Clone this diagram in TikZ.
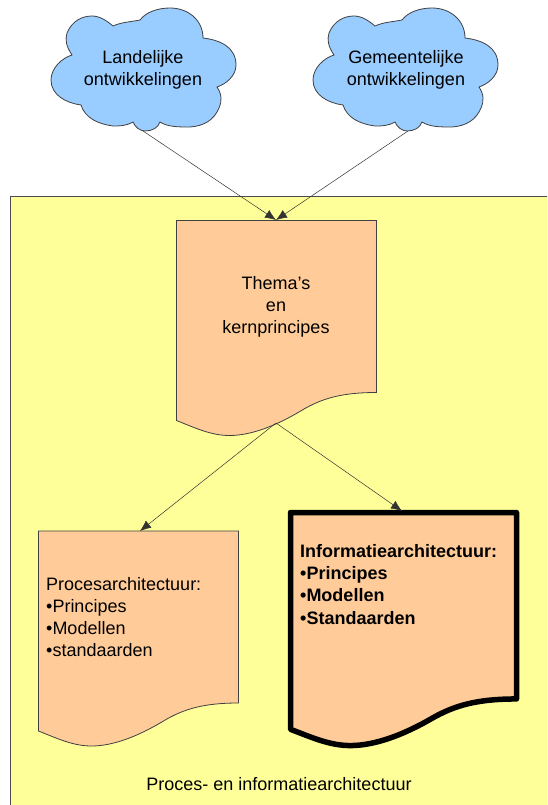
\documentclass[tikz,border=0pt]{standalone}
\usepackage{fontspec}
\setmainfont{Liberation Sans}[Ligatures=ResetAll]
\usetikzlibrary{arrows.meta}
\definecolor{cloudblue}{HTML}{99CCFF}
\definecolor{docorange}{HTML}{FFCC99}
\definecolor{areayellow}{HTML}{FFFF99}
\newcommand{\docpath}{(0,0) -- (200,0) -- (200,172) .. controls (165,172) and (145,178) .. (125,190) .. controls (100,205) and (75,215) .. (53,215) .. controls (35,215) and (20,208) .. (0,200) -- cycle}
\newcommand{\cloudpath}{(72,55) .. controls (66,46) and (65,40) .. (67,33) .. controls (72,21) and (82,16) .. (92,16) .. controls (100,16) and (107,21) .. (113,26) .. controls (122,22) and (130,22) .. (140,20) .. controls (146,12) and (158,8) .. (170,8) .. controls (188,8) and (203,20) .. (203,38) .. controls (220,40) and (236,47) .. (236,65) .. controls (236,76) and (226,84) .. (217,87) .. controls (222,94) and (222,102) .. (219,108) .. controls (214,120) and (204,126) .. (190,127) .. controls (178,127) and (168,127) .. (160,122) .. controls (158,128) and (152,131) .. (145,131) .. controls (140,131) and (135,127) .. (133,122) .. controls (126,126) and (120,126) .. (113,126) .. controls (98,124) and (85,118) .. (81,105) .. controls (66,103) and (51,95) .. (51,80) .. controls (51,68) and (62,58) .. (72,55) -- cycle}
\begin{document}
\begin{tikzpicture}[x=1pt, y=-1pt, every node/.style={font=\fontsize{18}{22}\selectfont, align=center, inner sep=0pt}]
  % Styles
  \tikzset{
    area/.style = {draw=black!70, fill=areayellow, line width=0.8pt},
    cloudshape/.style = {draw=black!75, fill=cloudblue, line width=0.8pt},
    docshape/.style = {draw=black!75, fill=docorange, line width=0.8pt},
    docheavy/.style = {draw=black, fill=docorange, line width=5.5pt, line join=round},
    link/.style = {-{Latex[length=11pt,width=9pt]}, draw=black!80, line width=0.5pt}
  }
  \useasboundingbox (0,0) rectangle (547,805);
  \clip (0,0) rectangle (547,805);

  % Background
  \path[area] (10.5,196) rectangle (560,820);

  % Clouds
  \path[cloudshape] \cloudpath;
  \path[cloudshape, shift={(262,0)}] \cloudpath;
  \node (Landelijk) at (143,70) {Landelijke\\ontwikkelingen};
  \node (Gemeente) at (406,70) {Gemeentelijke\\ontwikkelingen};

  % Documents
  \path[docshape, shift={(176.5,220.5)}] \docpath;
  \path[docshape, shift={(38.5,531)}] \docpath;
  \path[docheavy, shift={(290.5,512.5)}, xscale=1.13, yscale=1.084] \docpath;

  % Anchors
  \coordinate (CloudL) at (143,131);
  \coordinate (CloudR) at (408,131);
  \coordinate (ThemaTop) at (276,220);
  \coordinate (ThemaBot) at (276,423);
  \coordinate (ProcesTop) at (140,531);
  \coordinate (InfoTop) at (402,511);

  % Texts
  \node (Thema) at (276,307) {Thema's\\en\hspace{6pt}\\kernprincipes};
  \node[anchor=north west, align=left] (Proces) at (46,577) {Procesarchitectuur:\\•Principes\\•Modellen\\•standaarden};
  \node[anchor=north west, align=left, font=\fontsize{18}{22.3}\selectfont\bfseries] (Info) at (300,544) {Informatiearchitectuur:\\•Principes\\•Modellen\\•Standaarden};
  \node (Titel) at (279,784) {Proces- en informatiearchitectuur};

  % Connections
  \draw[link] (CloudL) -- (ThemaTop);
  \draw[link] (CloudR) -- (ThemaTop);
  \draw[link] (ThemaBot) -- (ProcesTop);
  \draw[link] (ThemaBot) -- (InfoTop);
\end{tikzpicture}
\end{document}
